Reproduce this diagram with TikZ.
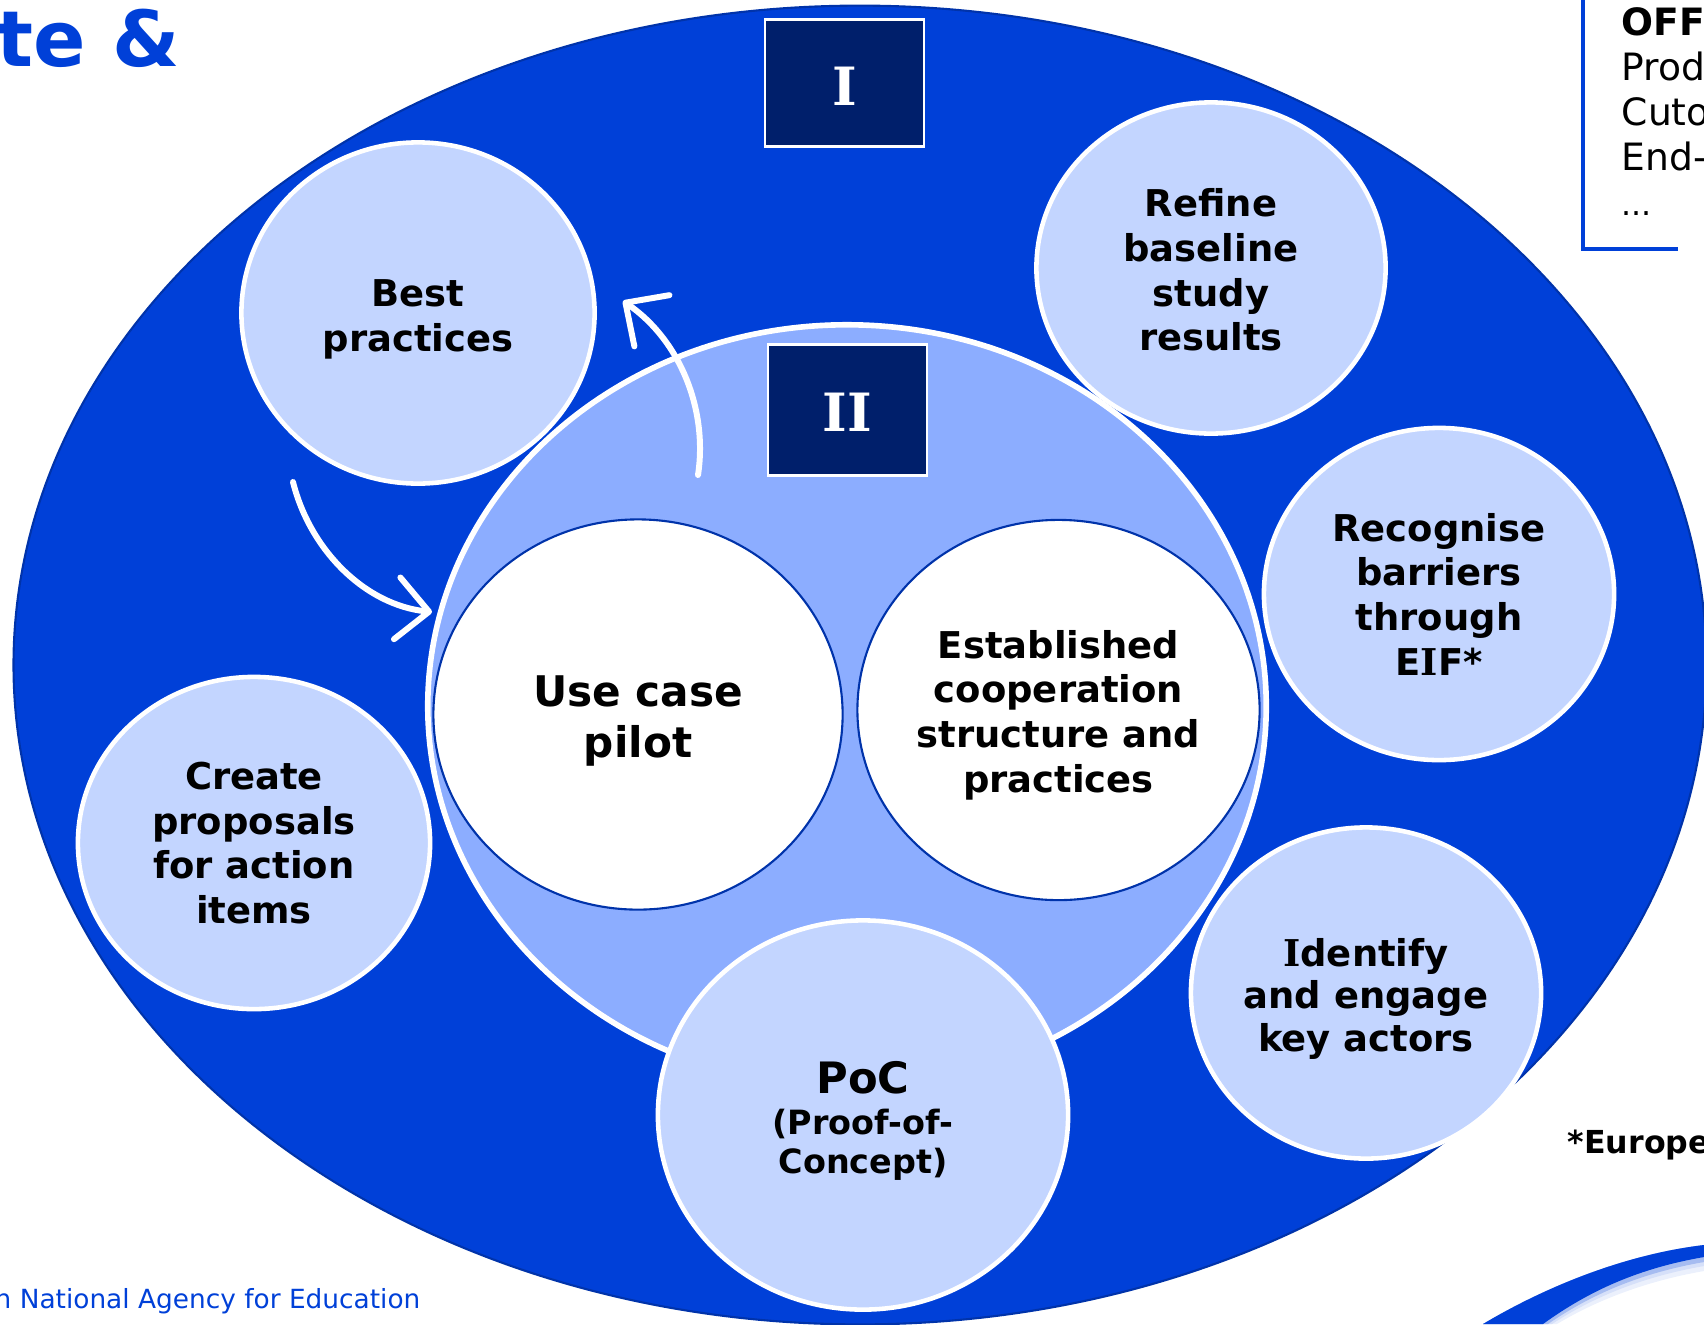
\documentclass[tikz,border=0pt]{standalone}
\usepackage{fontspec}
\setmainfont{DejaVu Sans}
\newfontfamily\boxfont{DejaVu Serif}
\usetikzlibrary{arrows.meta, shapes.geometric}

\definecolor{eaBlue}{HTML}{0040D8}
\definecolor{eaEdge}{HTML}{0033AA}
\definecolor{eaMid}{HTML}{8CADFF}
\definecolor{eaPale}{HTML}{C3D5FF}
\definecolor{eaNavy}{HTML}{001F6B}

\newcommand{\nudge}[1]{\rule{0pt}{#1}}

\tikzset{
    bubble/.style={ellipse, draw=white, line width=1.3pt, fill=eaPale, inner sep=-4pt, align=center,
        font=\fontsize{10.5}{12.7}\selectfont\bfseries},
    core/.style={bubble, draw=eaEdge, line width=0.6pt, fill=white},
    tag/.style={rectangle, draw=white, line width=0.8pt, fill=eaNavy, text=white, inner sep=0pt,
        minimum width=1.59cm, font=\fontsize{15}{18}\selectfont\boxfont\bfseries},
    cycle/.style={draw=white, line width=1.7pt, line cap=round,
        -{Straight Barb[length=3.2mm, width=6.2mm, round]}}
}

\begin{document}
\begin{tikzpicture}[x=0.01cm, y=-0.01cm]
        \useasboundingbox (0,0) rectangle (1704,1324);

        \node[ellipse, draw=eaEdge, line width=0.6pt, fill=eaBlue, minimum width=16.92cm, minimum height=13.18cm, inner sep=0pt] (outer) at (860,665) {};
        \node[ellipse, draw=white, line width=1.6pt, fill=eaMid, minimum width=8.38cm, minimum height=7.62cm, inner sep=0pt] (inner) at (847,706) {};

        \node[tag, minimum height=1.27cm] (I) at (844.5,83) {\nudge{13pt}I};
        \node[tag, minimum height=1.31cm] (II) at (847.5,410) {\nudge{12pt}II};

        \node[bubble, minimum width=3.53cm, minimum height=3.41cm] (best) at (418,313) {\nudge{11.4pt}Best\\practices};
        \node[bubble, minimum width=3.49cm, minimum height=3.31cm] (refine) at (1211,268) {\nudge{9.2pt}Refine\\baseline\\study\\results};
        \node[bubble, minimum width=3.50cm, minimum height=3.32cm] (barriers) at (1439,594) {Recognise\\barriers\\through\\E{\boxfont I}F*};
        \node[bubble, minimum width=3.50cm, minimum height=3.31cm, font=\fontsize{10.5}{12.1}\selectfont\bfseries] (actors) at (1366,993) {\nudge{11.1pt}{\boxfont I}dentify\\and engage\\key actors};
        \node[bubble, minimum width=3.52cm, minimum height=3.32cm] (proposals) at (254,843) {Create\\proposals\\for action\\items};

        \node[core, minimum width=4.09cm, minimum height=3.90cm, font=\fontsize{12}{14.5}\selectfont\bfseries] (pilot) at (638,714.5) {\nudge{12.3pt}Use case\\pilot};
        \node[core, minimum width=4.02cm, minimum height=3.80cm] (cooperation) at (1058.5,710) {\nudge{10.8pt}Established\\cooperation\\structure and\\practices};

        \node[bubble, minimum width=4.10cm, minimum height=3.89cm, font=\fontsize{9.5}{11}\selectfont\bfseries] (poc) at (863,1115) {\nudge{12.4pt}{\fontsize{12.3}{12.3}\selectfont PoC}\\[0.7pt](Proof-of-\\Concept)};

        \coordinate (bestout) at (293,482);
        \coordinate (pilotin) at (432,612);
        \coordinate (pilotout) at (698,475);
        \coordinate (bestin) at (623,301);

        \draw[cycle] (bestout) .. controls (310,550) and (365,605) .. (pilotin);
        \draw[cycle] (pilotout) .. controls (708,410) and (680,340) .. (bestin);

        \node[anchor=base east, inner sep=0pt, text=eaBlue, font=\fontsize{22}{26}\selectfont\bfseries] (title) at (181,66) {te \&};
        \node[anchor=base east, inner sep=0pt, text=eaBlue, font=\fontsize{7.5}{10}\selectfont] (agency) at (421,1308) {n National Agency for Education};
        \node[anchor=base west, inner sep=0pt, font=\fontsize{9}{11}\selectfont\bfseries] (europe) at (1567,1153) {*Europe};

        \node[anchor=north west, inner sep=0pt, align=left, font=\fontsize{10.7}{12.8}\selectfont] (offer) at (1621,7) {\textbf{OFF}\\Prod\\Cuto\\End-\\{\fontsize{9}{12.8}\selectfont ...}};

        \coordinate (frametop) at (1583,0);
        \coordinate (framecorner) at (1583,249);
        \coordinate (frameend) at (1678,249);
        \draw[eaBlue, line width=1pt] (frametop) -- (framecorner) -- (frameend);

        \foreach \off/\tint in {14/8, 9/16, 5/35}
            \fill[eaBlue!\tint] (1483,1324) .. controls (1540,1290) and (1620,1255) .. (1704,1245) -- (1704,1257+\off) .. controls (1640,1268+\off) and (1590,1290+\off) .. (1543+\off,1324) -- cycle;
        \fill[eaBlue] (1483,1324) .. controls (1540,1290) and (1620,1255) .. (1704,1245) -- (1704,1257) .. controls (1640,1268) and (1590,1290) .. (1543,1324) -- cycle;
\end{tikzpicture}
\end{document}
